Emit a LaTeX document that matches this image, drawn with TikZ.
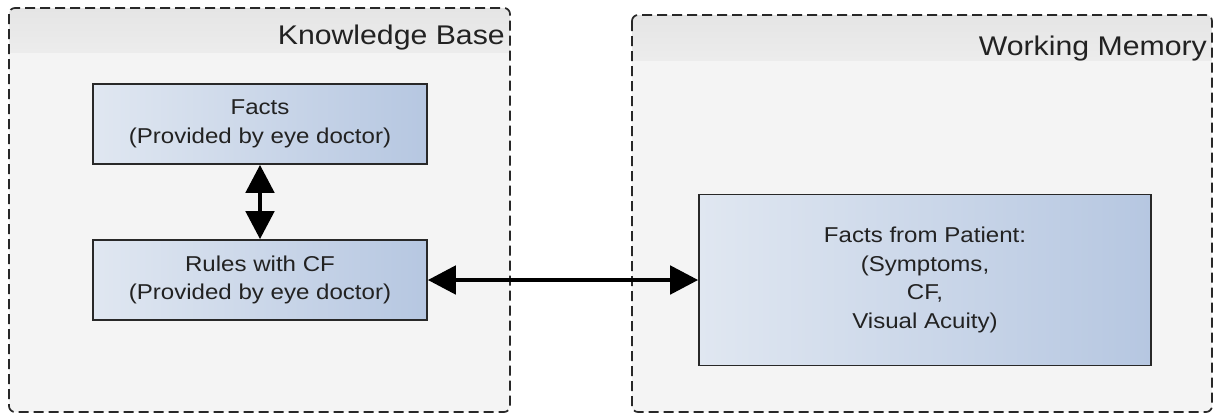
\documentclass[tikz,border=0pt]{standalone}
\usepackage{fontspec}
\setmainfont[FakeStretch=1.12]{Liberation Sans}
\usetikzlibrary{arrows.meta}

\definecolor{panelbody}{HTML}{F4F4F4}
\definecolor{hdrtop}{HTML}{E5E5E5}
\definecolor{hdrbot}{HTML}{ECECEC}
\definecolor{edgegrey}{HTML}{282828}
\definecolor{inkgrey}{HTML}{222222}
\definecolor{boxleft}{HTML}{E0E7F1}
\definecolor{boxright}{HTML}{B6C7E1}

\tikzset{
  paneledge/.style={draw=edgegrey, line width=1.7pt, dash pattern=on 10pt off 5pt, rounded corners=6pt},
  paneltitle/.style={inner sep=0pt, text=inkgrey, font=\fontsize{27}{32}\selectfont},
  kbox/.style={draw=edgegrey, line width=1.6pt, left color=boxleft, right color=boxright,
    align=center, text=inkgrey, font=\fontsize{21.5}{28.5}\selectfont, inner sep=0pt},
  dblarrow/.style={draw=black, line width=4.8pt,
    {Triangle[length=28pt,width=28pt]}-{Triangle[length=28pt,width=28pt]}}
}

\begin{document}
\begin{tikzpicture}[x=1pt,y=-1pt]
\useasboundingbox (0,0) rectangle (1216,416);
\fill[white] (0,0) rectangle (1216,416);

% Knowledge Base panel
\begin{scope}
  \clip[rounded corners=6pt] (9,8) rectangle (510,412);
  \fill[panelbody] (9,8) rectangle (510,412);
  \shade[top color=hdrtop, bottom color=hdrbot] (9,8) rectangle (510,52);
\end{scope}
\path[paneledge] (9,8) rectangle (510,412);
\node[paneltitle, anchor=base east] (kbtitle) at (505,44) {Knowledge Base};

% Working Memory panel
\begin{scope}
  \clip[rounded corners=6pt] (632,15) rectangle (1212,412);
  \fill[panelbody] (632,15) rectangle (1212,412);
  \shade[top color=hdrtop, bottom color=hdrbot] (632,15) rectangle (1212,60);
\end{scope}
\path[paneledge] (632,15) rectangle (1212,412);
\node[paneltitle, anchor=base east] (wmtitle) at (1207,55) {Working Memory};

% Content boxes
\node[kbox, minimum width=334pt, minimum height=80pt] (facts) at (260,124)
  {Facts\\(Provided by eye doctor)};
\node[kbox, minimum width=334pt, minimum height=80pt] (rules) at (260,280)
  {Rules with CF\\(Provided by eye doctor)};
\node[kbox, minimum width=452pt, minimum height=171pt] (patient) at (925,280)
  {Facts from Patient:\\(Symptoms,\\CF,\\Visual Acuity)};

% Connectors
\draw[dblarrow] (facts) -- (rules);
\draw[dblarrow] (rules) -- (patient);
\end{tikzpicture}
\end{document}
